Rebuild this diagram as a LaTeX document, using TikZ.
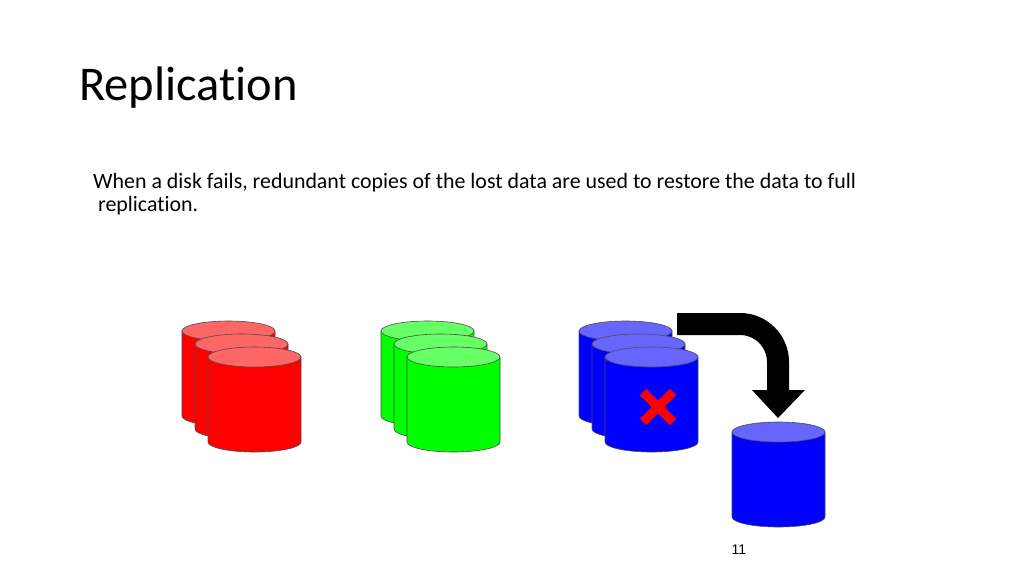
\documentclass[tikz,border=0pt]{standalone}
\usepackage{fontspec}
\setmainfont[Ligatures=NoCommon]{Carlito}
\newfontfamily\numfont{Liberation Sans}
\definecolor{lred}{HTML}{FF6666}
\definecolor{lgreen}{HTML}{66FF66}
\definecolor{lblue}{HTML}{6666FF}
\newcommand{\mycyl}[4]{%
  \fill[#3,draw=black!70,line width=0.6pt] (#1,#2) -- (#1,#2+85) arc[start angle=180,end angle=0,x radius=46.5,y radius=10] -- (#1+93,#2) -- cycle;
  \fill[#4,draw=black!70,line width=0.6pt] (#1+46.5,#2) ellipse[x radius=46.5,y radius=10];}
\begin{document}
\begin{tikzpicture}[x=1pt,y=-1pt]
\useasboundingbox (0,0) rectangle (1024,576);
\node[anchor=base west,inner sep=0,font=\fontsize{48.5}{58}\selectfont] (title) at (79,100) {Replication};
\node[anchor=base west,inner sep=0,align=left,font=\fontsize{21.9}{23}\selectfont] (body) at (93,211) {When a disk fails, redundant copies of the lost data are used to restore the data to full\\\ replication.};
\foreach \c/\l/\x in {red/lred/182,green/lgreen/381,blue/lblue/579}{
  \mycyl{\x}{331}{\c}{\l}
  \mycyl{\x+13}{344}{\c}{\l}
  \mycyl{\x+26}{357}{\c}{\l}}
\draw[red,line width=9pt] (643,392) -- (673,422) (673,392) -- (643,422);
\draw[line width=22pt] (677,324) -- (740,324) arc[start angle=270,end angle=360,radius=38] -- (778,392);
\fill (752,390) -- (805,390) -- (778,418) -- cycle;
\mycyl{732}{432}{blue}{lblue}
\node[anchor=base,inner sep=0,font=\numfont\fontsize{14}{16}\selectfont] (num) at (739,554) {11};
\end{tikzpicture}
\end{document}
